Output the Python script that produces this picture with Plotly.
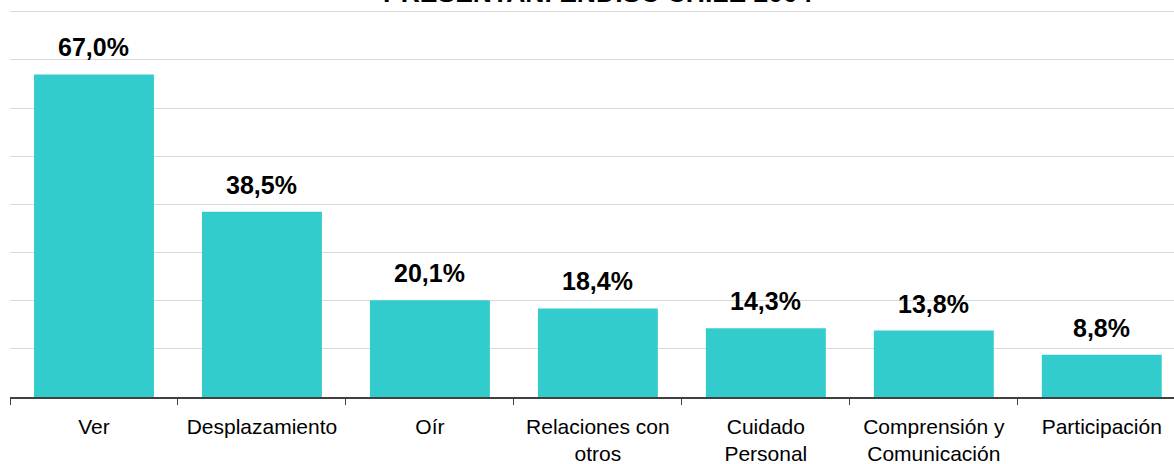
import plotly.graph_objects as go

categories = ["Ver", "Desplazamiento", "Oír", "Relaciones con<br>otros",
              "Cuidado<br>Personal", "Comprensión y<br>Comunicación", "Participación"]
values = [67.0, 38.5, 20.1, 18.4, 14.3, 13.8, 8.8]
value_labels = [f"{v:.1f}%".replace(".", ",") for v in values]
title_text = "PRESENTAN. ENDISC CHILE 2004"

FONT = "Liberation Sans, Arial, sans-serif"

fig = go.Figure()
fig.add_trace(go.Bar(
    x=categories, y=values,
    marker=dict(color="#33CCCC", line=dict(width=0)),
    hoverinfo="skip",
))

annotations = []
for c, v, t in zip(categories, values, value_labels):
    annotations.append(dict(
        x=c, y=v, xref="x", yref="y", text=f"<b>{t}</b>",
        showarrow=False, yanchor="bottom", yshift=11,
        font=dict(family=FONT, size=25, color="#000000"),
    ))
annotations.append(dict(
    x=0.505, y=1, xref="paper", yref="paper", text=f"<b>{title_text}</b>",
    showarrow=False, yanchor="bottom", yshift=-3.5, xanchor="center",
    font=dict(family=FONT, size=26.5, color="#000000"),
))

fig.update_layout(
    width=1174, height=464, autosize=False,
    margin=dict(l=9.7, r=0, t=6.9, b=66.5, pad=0),
    paper_bgcolor="white", plot_bgcolor="white",
    bargap=0.286,
    showlegend=False,
    annotations=annotations,
    xaxis=dict(
        type="category",
        range=[-0.5, 6.43],
        tickson="boundaries",
        ticks="outside", ticklen=6, tickwidth=1, tickcolor="#404040",
        showline=True, linecolor="#404040", linewidth=1.5,
        showgrid=False,
        tickfont=dict(family=FONT, size=21, color="#000000"),
        ticklabelstandoff=10,
    ),
    yaxis=dict(
        range=[0, 81], dtick=10,
        showgrid=True, gridcolor="#D9D9D9", gridwidth=1,
        showticklabels=False, zeroline=False, showline=False, ticks="",
    ),
)

fig.write_html(
    "out.html",
    config={"displayModeBar": False},
    post_script="document.body.style.margin='0';document.body.style.overflow='hidden';",
)
